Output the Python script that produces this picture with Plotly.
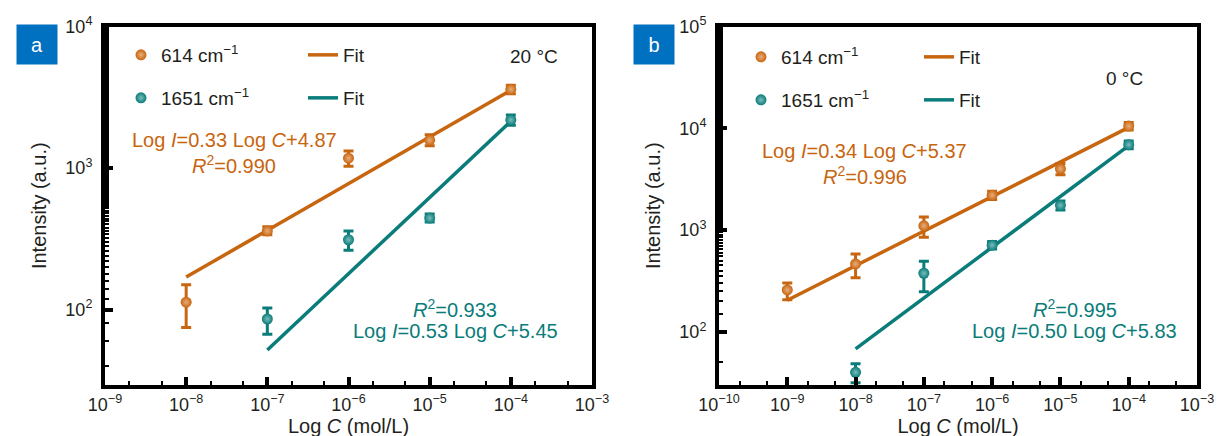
import plotly.graph_objects as go
import math

# ---------------- data ----------------
# Panel a (20 °C)
a_c614 = [1e-8, 1e-7, 1e-6, 1e-5, 1e-4]
a_i614 = [113, 360, 1175, 1575, 3600]
a_e614_plus = [37, 25, 145, 145, 250]
a_e614_minus = [38, 22, 145, 135, 250]
a_fit614_c = [1e-8, 1e-4]
a_fit614_i = [170, 3550]

a_c1651 = [1e-7, 1e-6, 1e-5, 1e-4]
a_i1651 = [86, 312, 444, 2190]
a_e1651_plus = [17, 47, 30, 180]
a_e1651_minus = [19, 49, 28, 180]
a_fit1651_c = [1e-7, 1e-4]
a_fit1651_i = [52, 2140]

# Panel b (0 °C)
b_c614 = [1e-9, 1e-8, 1e-7, 1e-6, 1e-5, 1e-4]
b_i614 = [258, 464, 1100, 2200, 4000, 10500]
b_e614_plus = [44, 118, 240, 200, 500, 900]
b_e614_minus = [51, 125, 250, 200, 500, 900]
b_fit614_c = [1e-9, 1e-4]
b_fit614_i = [204, 10200]

b_c1651 = [1e-8, 1e-7, 1e-6, 1e-5, 1e-4]
b_i1651 = [40, 376, 710, 1750, 6900]
b_e1651_plus = [8.5, 117, 60, 180, 600]
b_e1651_minus = [8.4, 128, 60, 180, 600]
b_fit1651_c = [1e-8, 1e-4]
b_fit1651_i = [68, 6760]

a_xticks = [-9, -8, -7, -6, -5, -4, -3]
b_xticks = [-10, -9, -8, -7, -6, -5, -4, -3]
a_yticks = [2, 3, 4]
b_yticks = [2, 3, 4, 5]

# ---------------- style ----------------
ORANGE = "#C8650F"
TEAL = "#0A7C7A"
INK = "#231F20"
FONT = "Liberation Sans, Arial, sans-serif"
W, H = 1225, 436

def px_x(p):
    return p / W

def px_y(p):
    return 1 - p / H

fig = go.Figure()

def add_panel(xa, ya, c1, i1, p1, m1, fc1, fi1, c2, i2, p2, m2, fc2, fi2, lg1, lg2):
    fig.add_trace(go.Scatter(x=fc1, y=fi1, mode="lines", line=dict(color=ORANGE, width=3.5),
                             name="Fit", xaxis=xa, yaxis=ya, legend=lg1, legendrank=2))
    fig.add_trace(go.Scatter(x=fc2, y=fi2, mode="lines", line=dict(color=TEAL, width=3.5),
                             name="Fit", xaxis=xa, yaxis=ya, legend=lg2, legendrank=2))
    fig.add_trace(go.Scatter(x=c1, y=i1, mode="markers",
                             marker=dict(color=ORANGE, size=11, line=dict(width=0),
                                         gradient=dict(type="radial", color="#E8AE7C")),
                             error_y=dict(type="data", array=p1, arrayminus=m1, color=ORANGE,
                                          thickness=3, width=5),
                             name="614 cm<sup>−1</sup>", xaxis=xa, yaxis=ya, legend=lg1, legendrank=1))
    fig.add_trace(go.Scatter(x=c2, y=i2, mode="markers",
                             marker=dict(color=TEAL, size=11, line=dict(width=0),
                                         gradient=dict(type="radial", color="#7ABDBB")),
                             error_y=dict(type="data", array=p2, arrayminus=m2, color=TEAL,
                                          thickness=3, width=5),
                             name="1651 cm<sup>−1</sup>", xaxis=xa, yaxis=ya, legend=lg2, legendrank=1))

add_panel("x", "y", a_c614, a_i614, a_e614_plus, a_e614_minus, a_fit614_c, a_fit614_i,
          a_c1651, a_i1651, a_e1651_plus, a_e1651_minus, a_fit1651_c, a_fit1651_i, "legend", "legend2")
add_panel("x2", "y2", b_c614, b_i614, b_e614_plus, b_e614_minus, b_fit614_c, b_fit614_i,
          b_c1651, b_i1651, b_e1651_plus, b_e1651_minus, b_fit1651_c, b_fit1651_i, "legend3", "legend4")

def sup_label(e):
    s = str(e).replace("-", "−")
    return f"10<sup>{s}</sup>"

common_axis = dict(
    type="log", showline=True, linecolor="black", linewidth=4, mirror=True,
    ticks="inside", ticklen=8, tickwidth=4, tickcolor="black",
    showgrid=False, zeroline=False, automargin=False,
    tickfont=dict(family=FONT, size=18, color=INK),
    minor=dict(ticks="inside", ticklen=4, tickwidth=2, tickcolor="black", showgrid=False),
)

ydom = [px_y(377), px_y(18.5)]
xtitle = dict(text="Log <i>C</i> (mol/L)", font=dict(family=FONT, size=20, color=INK), standoff=6)
ytitle = dict(text="Intensity (a.u.)", font=dict(family=FONT, size=20, color=INK), standoff=14)

fig.update_layout(
    xaxis=dict(common_axis, domain=[px_x(97), px_x(584)], range=[-9, -3],
               tickvals=[10 ** e for e in a_xticks], ticktext=[sup_label(e) for e in a_xticks],
               title=xtitle, anchor="y"),
    yaxis=dict(common_axis, domain=ydom, range=[math.log10(29.4), 4],
               tickvals=[10 ** e for e in a_yticks], ticktext=[sup_label(e) for e in a_yticks],
               title=ytitle, anchor="x", ticklabelstandoff=5),
    xaxis2=dict(common_axis, domain=[px_x(711), px_x(1189)], range=[-10, -3],
                tickvals=[10 ** e for e in b_xticks], ticktext=[sup_label(e) for e in b_xticks],
                title=xtitle, anchor="y2"),
    yaxis2=dict(common_axis, domain=ydom, range=[math.log10(30), 5],
                tickvals=[10 ** e for e in b_yticks], ticktext=[sup_label(e) for e in b_yticks],
                title=ytitle, anchor="x2", ticklabelstandoff=5),
    width=W, height=H,
    margin=dict(l=0, r=0, t=0, b=0, autoexpand=False),
    paper_bgcolor="white", plot_bgcolor="white",
    font=dict(family=FONT, size=18, color=INK),
    showlegend=True,
)

legend_common = dict(orientation="h", entrywidthmode="pixels",
                     bgcolor="rgba(0,0,0,0)", font=dict(family=FONT, size=19, color=INK),
                     xanchor="left", yanchor="middle", itemwidth=30, tracegroupgap=0,
                     traceorder="normal")
fig.update_layout(
    legend=dict(legend_common, entrywidth=137, x=px_x(113), y=px_y(47)),
    legend2=dict(legend_common, entrywidth=137, x=px_x(113), y=px_y(90)),
    legend3=dict(legend_common, entrywidth=133, x=px_x(733), y=px_y(49)),
    legend4=dict(legend_common, entrywidth=133, x=px_x(733), y=px_y(92)),
)

ann = []
def text(x, y, t, color, size=20, xanchor="center"):
    ann.append(dict(x=px_x(x), y=px_y(y), xref="paper", yref="paper", text=t, showarrow=False,
                    font=dict(family=FONT, size=size, color=color), xanchor=xanchor, yanchor="middle"))

text(226, 132, "Log <i>I</i>=0.33 Log <i>C</i>+4.87", ORANGE)
text(226, 156, "<i>R</i><sup>2</sup>=0.990", ORANGE)
text(447, 300, "<i>R</i><sup>2</sup>=0.933", TEAL)
text(447, 323, "Log <i>I</i>=0.53 Log <i>C</i>+5.45", TEAL)
text(526, 48, "20 °C", INK, size=19)

text(856, 143, "Log <i>I</i>=0.34 Log <i>C</i>+5.37", ORANGE)
text(857, 167, "<i>R</i><sup>2</sup>=0.996", ORANGE)
text(1067, 300, "<i>R</i><sup>2</sup>=0.995", TEAL)
text(1066, 323, "Log <i>I</i>=0.50 Log <i>C</i>+5.83", TEAL)
text(1116, 70, "0 °C", INK, size=19)

for lab, x0 in (("a", 8), ("b", 625)):
    ann.append(dict(x=px_x(x0), y=px_y(16), xref="paper", yref="paper", text=lab, showarrow=False,
                    xanchor="left", yanchor="top", width=38, height=37, bgcolor="#0070C0",
                    font=dict(family=FONT, size=20, color="white"), align="center", valign="middle"))

fig.update_layout(annotations=ann)
fig.write_html("out.html")
